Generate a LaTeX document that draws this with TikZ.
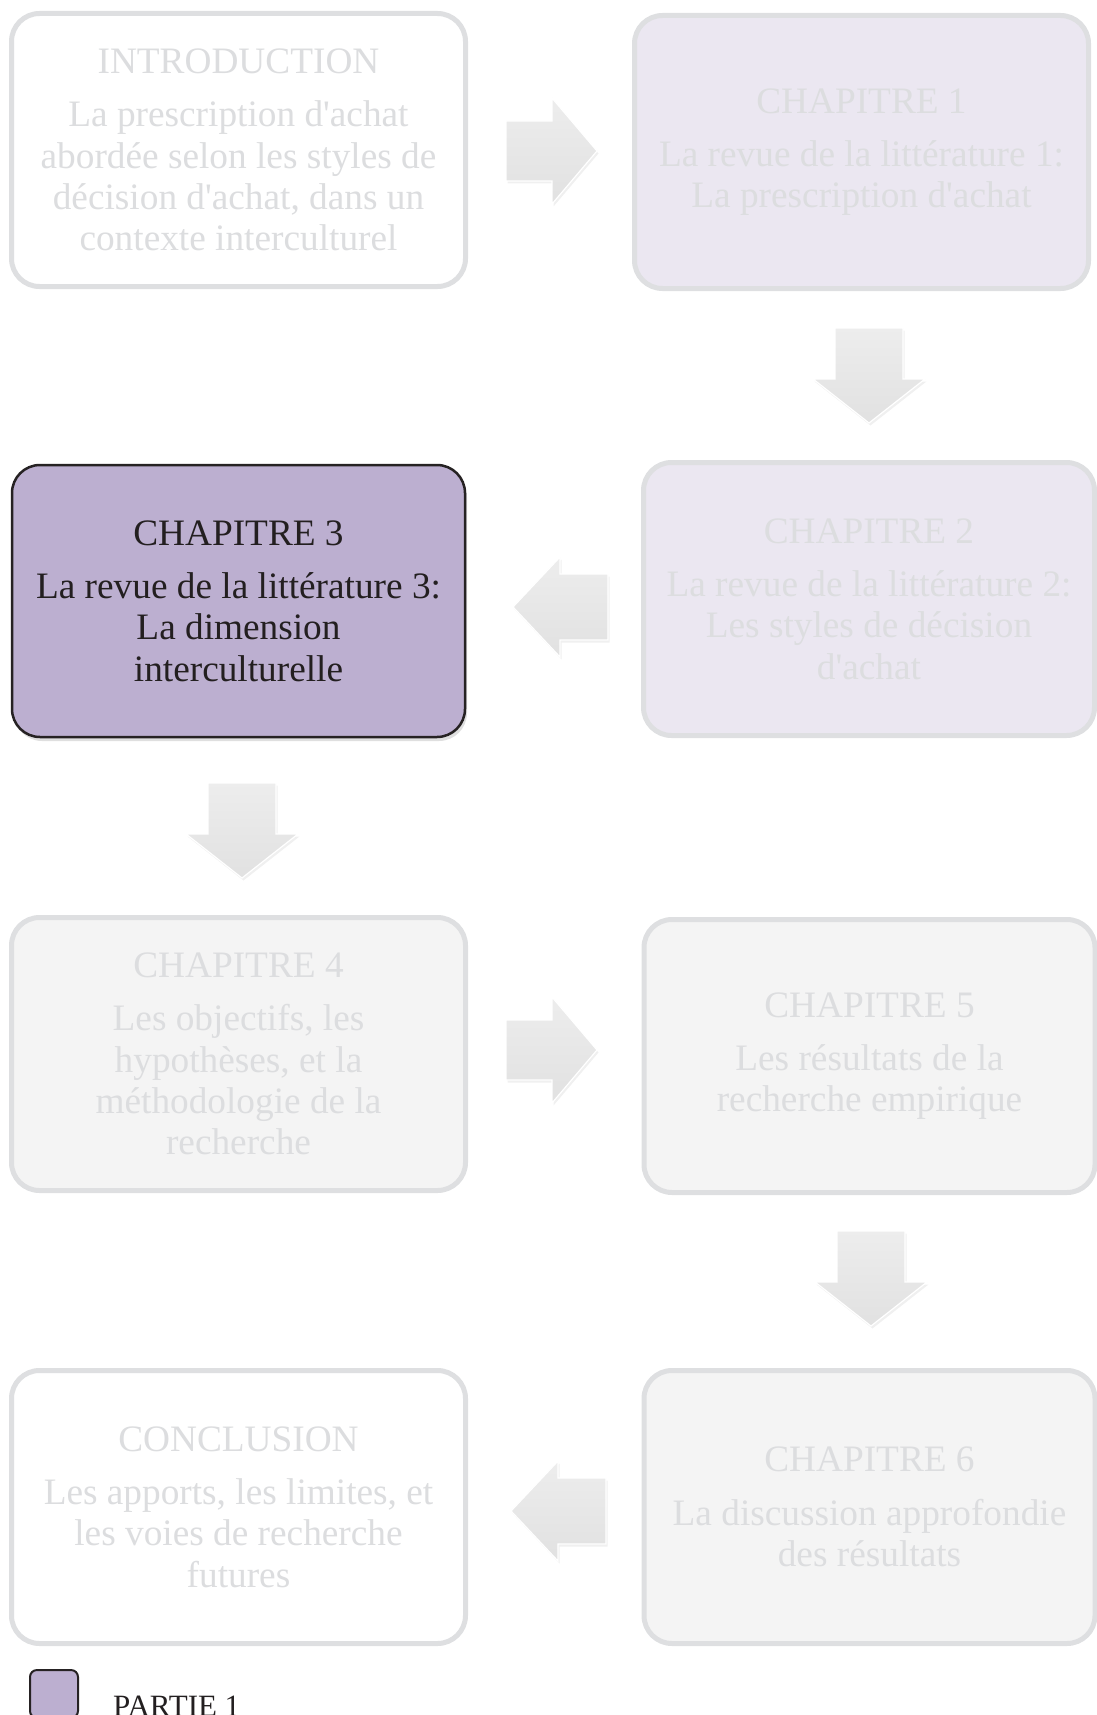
\documentclass[tikz,border=0pt]{standalone}
\usepackage{fontspec}
\setmainfont{Liberation Serif}[Ligatures=TeXOff]
\usetikzlibrary{shadows}
\definecolor{gborder}{HTML}{DEDFE1}
\definecolor{ftext}{HTML}{DCDDDF}
\definecolor{lavlight}{HTML}{EBE7F1}
\definecolor{graylight}{HTML}{F4F4F4}
\definecolor{lavmain}{HTML}{BCAFD0}
\definecolor{darkline}{HTML}{262223}
\definecolor{darktext}{HTML}{231F20}
\definecolor{arrtop}{HTML}{EDEDED}
\definecolor{arrbot}{HTML}{E1E1E1}
\newcommand\RArr[2]{\path[arrowshape] (#1,#2-30) -- (#1+46,#2-30) -- (#1+46,#2-53) -- (#1+91,#2) -- (#1+46,#2+53) -- (#1+46,#2+30) -- (#1,#2+30) -- cycle;}
\newcommand\LArr[2]{\path[arrowshape] (#1,#2-33) -- (#1-48,#2-33) -- (#1-48,#2-50) -- (#1-95,#2) -- (#1-48,#2+50) -- (#1-48,#2+33) -- (#1,#2+33) -- cycle;}
\newcommand\DArr[2]{\path[arrowshape] (#1-34,#2) -- (#1+34,#2) -- (#1+34,#2+51) -- (#1+56,#2+51) -- (#1,#2+95) -- (#1-56,#2+51) -- (#1-34,#2+51) -- cycle;}
\begin{document}
\begin{tikzpicture}[x=1pt,y=-1pt,
  box/.style={rounded corners=28pt, line width=5pt, draw=gborder, text=ftext,
    align=center, inner sep=0pt, font=\fontsize{37.3pt}{41.3pt}\selectfont,
    minimum width=454pt, minimum height=273pt},
  whitebox/.style={box, fill=white},
  lavbox/.style={box, fill=lavlight},
  graybox/.style={box, fill=graylight},
  activebox/.style={box, draw=darkline, line width=2.5pt, fill=lavmain, text=darktext,
    drop shadow={shadow xshift=2pt, shadow yshift=-4pt, opacity=0.25}},
  arrowshape/.style={top color=arrtop, bottom color=arrbot, draw=white, line width=1.2pt,
    drop shadow={shadow xshift=1.5pt, shadow yshift=-2.5pt, opacity=0.12}}]
\useasboundingbox (0,0) rectangle (1096,1715);

\node[whitebox] (intro) at (238.5,150) {INTRODUCTION\\[12pt]La prescription d'achat\\abordée selon les styles de\\décision d'achat, dans un\\contexte interculturel};
\node[lavbox] (ch1) at (861.5,152) {CHAPITRE 1\\[12pt]La revue de la littérature 1:\\La prescription d'achat};
\node[lavbox, minimum width=451pt] (ch2) at (869,599) {CHAPITRE 2\\[12pt]La revue de la littérature 2:\\Les styles de décision\\d'achat};
\node[activebox, minimum width=453pt, minimum height=272pt] (ch3) at (238.5,601) {CHAPITRE 3\\[12pt]La revue de la littérature 3:\\La dimension\\interculturelle};
\node[graybox] (ch4) at (238.5,1054) {CHAPITRE 4\\[12pt]Les objectifs, les\\hypothèses, et la\\méthodologie de la\\recherche};
\node[graybox, minimum width=451pt] (ch5) at (869.5,1056) {CHAPITRE 5\\[12pt]Les résultats de la\\recherche empirique};
\node[graybox, minimum width=451pt] (ch6) at (869.5,1507) {CHAPITRE 6\\[12pt]La discussion approfondie\\des résultats};
\node[whitebox] (concl) at (238.5,1507) {CONCLUSION\\[12pt]Les apports, les limites, et\\les voies de recherche\\futures};

\RArr{506}{151}
\DArr{869}{328}
\LArr{608}{607}
\DArr{242}{783}
\RArr{506}{1050}
\DArr{871}{1231}
\LArr{606}{1511}

\node[draw=darkline, line width=2pt, fill=lavmain, rounded corners=7pt,
  minimum size=48pt, inner sep=0pt] (leg) at (54,1694) {};
\node[anchor=base west, inner sep=0pt, text=darktext,
  font=\fontsize{31pt}{34pt}\selectfont] (legtxt) at (113,1716) {PARTIE 1};
\end{tikzpicture}
\end{document}
